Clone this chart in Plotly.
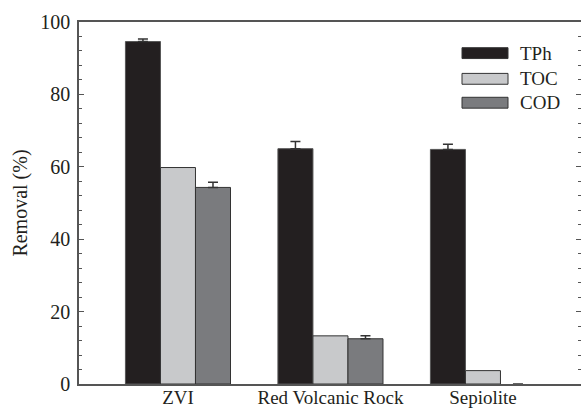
import plotly.graph_objects as go

categories = ["ZVI", "Red Volcanic Rock", "Sepiolite"]
series_names = ["TPh", "TOC", "COD"]
tph = [94.6, 65.0, 64.8]
toc = [59.8, 13.3, 3.7]
cod = [54.3, 12.5, 0.0]
tph_err = [0.7, 2.0, 1.4]
cod_err = [1.4, 0.8, 0.0]
colors = ["#231f20", "#c8c9cb", "#7a7b7e"]

FONT = "Liberation Serif, Times New Roman, serif"
TXT = "#231f20"
AX = "#555555"

fig = go.Figure()
err_style = dict(type="data", symmetric=False, color="#333333", thickness=1.5, width=5)
fig.add_trace(go.Bar(x=categories, y=tph, name=series_names[0], marker=dict(color=colors[0], line=dict(color="#555555", width=1)),
                     error_y=dict(array=tph_err, arrayminus=[0]*3, **err_style)))
fig.add_trace(go.Bar(x=categories, y=toc, name=series_names[1], marker=dict(color=colors[1], line=dict(color="#333333", width=1))))
fig.add_trace(go.Bar(x=categories, y=cod, name=series_names[2], marker=dict(color=colors[2], line=dict(color="#333333", width=[1, 1, 0])),
                     error_y=dict(array=cod_err, arrayminus=[0]*3, **err_style)))
# hidden trace for right-side ticks
fig.add_trace(go.Scatter(x=categories, y=tph, yaxis="y2", mode="markers", marker=dict(opacity=0), showlegend=False, hoverinfo="skip"))

fig.update_layout(
    width=581, height=410,
    margin=dict(l=79, r=0, t=22, b=26),
    paper_bgcolor="white", plot_bgcolor="white",
    barmode="group", bargap=0.311, bargroupgap=0,
    showlegend=False,
    font=dict(family=FONT, size=20, color=TXT),
    xaxis=dict(range=[-0.649, 2.643], showline=True, linecolor=AX, linewidth=1.5, mirror=True,
               ticks="", showgrid=False, tickfont=dict(size=19), automargin=False, ticklabelstandoff=-5),
    yaxis=dict(range=[0, 100], dtick=20, showline=True, linecolor=AX, linewidth=1.5,
               ticks="inside", ticklen=5, tickcolor=AX, showgrid=False, zeroline=False,
               minor=dict(dtick=4, ticks="inside", ticklen=3, tickcolor=AX),
               title=dict(text="Removal (%)", font=dict(size=20), standoff=7),
               tickfont=dict(size=20), ticklabelstandoff=3, automargin=False),
    yaxis2=dict(range=[0, 100], dtick=20, overlaying="y", side="right", showline=False,
                ticks="inside", ticklen=5, tickcolor=AX, showticklabels=False, showgrid=False, zeroline=False,
                minor=dict(dtick=4, ticks="inside", ticklen=3, tickcolor=AX), automargin=False),
)

# custom legend
leg_y = [0.914, 0.843, 0.777]
for name, col, yy in zip(series_names, colors, leg_y):
    fig.add_shape(type="rect", xref="paper", yref="paper",
                  x0=(462-79)/502, x1=(508-79)/502, y0=yy-0.015, y1=yy+0.015,
                  fillcolor=col, line=dict(color="#333333", width=1))
    fig.add_annotation(xref="paper", yref="paper", x=(518-79)/502, y=yy, text=name,
                       showarrow=False, xanchor="left", yanchor="middle",
                       font=dict(family=FONT, size=19, color=TXT))

fig.write_html("out.html")
